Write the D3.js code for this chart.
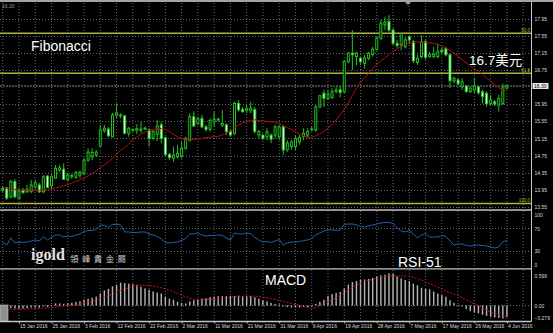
<!DOCTYPE html>
<html>
<head>
<meta charset="utf-8">
<script src="https://cdn.jsdelivr.net/npm/d3@7"></script>
<style>
  html, body { margin: 0; padding: 0; background: #000; }
  svg { display: block; }
</style>
</head>
<body>
<div id="chart"></div>
<script>
// ---- data (daily bars, 11 Jan - 4 Jun 2016) ----
const open = [13.98,13.99,13.78,14.14,13.75,13.94,13.90,13.90,14.01,14.06,
  13.90,14.27,14.04,14.22,14.41,14.43,14.19,14.26,14.24,14.29,
  14.33,14.64,14.72,14.76,14.97,15.33,15.37,15.19,15.70,15.70,
  15.68,15.27,15.34,15.34,15.34,15.37,15.35,15.15,15.25,15.47,
  15.17,14.78,14.69,14.72,14.74,14.92,15.11,15.66,15.50,15.62,
  15.42,15.36,15.54,15.58,15.46,15.47,15.31,15.27,15.97,15.83,
  15.81,15.80,15.83,15.23,15.23,15.19,15.23,15.23,15.19,15.42,
  14.88,14.96,14.96,15.07,15.19,15.23,15.35,15.35,15.89,16.21,
  16.09,16.11,16.25,16.29,16.25,16.95,17.15,17.07,17.03,16.91,
  17.03,17.12,17.24,17.50,17.81,17.89,17.69,17.38,17.34,17.30,
  17.53,17.42,16.93,17.07,17.42,17.07,17.07,17.07,17.22,17.26,
  17.11,16.50,16.52,16.36,16.38,16.25,16.29,16.36,16.25,16.21,
  15.97,16.01,15.93,15.97,16.33];
const close = [13.95,13.75,14.14,13.78,13.92,13.88,13.96,14.06,14.11,13.90,
  14.25,14.00,14.25,14.45,14.46,14.19,14.29,14.28,14.35,14.36,
  14.64,14.83,14.82,14.83,15.35,15.39,15.21,15.70,15.75,15.68,
  15.27,15.39,15.36,15.38,15.37,15.39,15.15,15.31,15.44,15.15,
  14.77,14.70,14.76,14.80,14.92,15.15,15.66,15.44,15.61,15.42,
  15.36,15.57,15.60,15.60,15.50,15.31,15.23,15.97,15.82,15.78,
  15.85,15.86,15.31,15.31,15.15,15.31,15.13,15.42,15.42,14.88,
  15.04,15.07,15.15,15.17,15.27,15.31,15.37,15.89,16.15,16.09,
  16.19,16.25,16.29,16.23,16.95,17.15,17.11,17.15,16.95,17.04,
  17.15,17.24,17.50,17.85,17.88,17.69,17.38,17.33,17.61,17.46,
  17.46,16.97,17.03,17.42,17.05,17.12,17.12,17.18,17.18,17.11,
  16.50,16.56,16.43,16.48,16.25,16.33,16.38,16.22,16.13,15.96,
  16.05,15.96,16.09,16.36,16.38];
const high = [14.04,14.02,14.18,14.20,13.99,13.99,14.06,14.18,14.18,14.11,
  14.29,14.29,14.29,14.53,14.53,14.57,14.34,14.32,14.39,14.39,
  14.69,14.92,14.92,14.88,15.47,15.47,15.42,15.75,15.97,15.74,
  15.70,15.42,15.38,15.49,15.54,15.43,15.39,15.35,15.58,15.54,
  15.19,14.81,14.96,15.00,15.07,15.19,15.74,15.78,15.66,15.70,
  15.47,15.62,15.78,15.64,15.82,15.50,15.35,16.01,16.05,15.89,
  15.93,16.01,15.89,15.35,15.25,15.39,15.27,15.47,15.47,15.47,
  15.11,15.11,15.23,15.23,15.39,15.39,15.42,15.93,16.17,16.29,
  16.29,16.33,16.36,16.36,16.99,17.18,17.69,17.18,17.07,17.11,
  17.18,17.30,17.53,17.93,18.00,18.04,17.73,17.46,17.63,17.53,
  17.57,17.46,17.11,17.57,17.46,17.18,17.30,17.38,17.29,17.30,
  17.15,16.60,16.56,16.56,16.40,16.36,16.56,16.38,16.29,16.25,
  16.17,16.05,16.17,16.44,16.40];
const low = [13.89,13.71,13.75,13.75,13.71,13.85,13.87,13.87,13.97,13.87,
  13.87,13.99,13.97,14.20,14.37,14.18,14.14,14.20,14.20,14.22,
  14.29,14.60,14.64,14.72,14.96,15.28,15.19,15.18,15.62,15.62,
  15.25,15.19,15.31,15.25,15.28,15.35,14.97,15.11,15.09,15.04,
  14.74,14.64,14.60,14.68,14.68,14.88,15.07,15.42,15.47,15.39,
  15.31,15.31,15.42,15.55,15.42,15.23,15.19,15.23,15.78,15.75,
  15.74,15.74,15.27,15.15,15.11,15.11,15.04,15.15,15.11,14.76,
  14.84,14.88,14.88,15.00,15.11,15.15,15.32,15.31,15.86,15.89,
  16.05,16.07,16.21,16.11,16.21,16.91,16.75,16.87,16.87,16.79,
  16.99,17.07,17.21,17.46,17.69,17.65,17.34,17.27,17.22,17.26,
  17.38,16.91,16.87,17.03,16.99,17.04,17.03,17.03,17.15,17.07,
  16.33,16.44,16.40,16.29,16.22,16.21,16.21,16.17,15.97,15.89,
  15.93,15.91,15.78,15.93,16.30];
// red moving average
const ma = [14.00,13.98,13.97,13.95,13.94,13.94,13.94,13.94,13.94,13.94,
  13.95,13.96,13.97,13.99,14.01,14.04,14.07,14.10,14.14,14.18,
  14.22,14.27,14.33,14.39,14.46,14.53,14.60,14.68,14.78,14.87,
  14.94,15.02,15.12,15.19,15.25,15.30,15.34,15.36,15.38,15.38,
  15.36,15.31,15.25,15.19,15.15,15.12,15.11,15.12,15.14,15.15,
  15.17,15.18,15.19,15.20,15.23,15.28,15.32,15.39,15.47,15.52,
  15.55,15.57,15.59,15.57,15.56,15.55,15.54,15.53,15.50,15.45,
  15.40,15.36,15.30,15.25,15.21,15.18,15.18,15.21,15.25,15.31,
  15.39,15.48,15.58,15.70,15.83,15.98,16.16,16.32,16.46,16.58,
  16.68,16.79,16.88,16.97,17.04,17.11,17.19,17.25,17.30,17.35,
  17.38,17.40,17.41,17.41,17.40,17.39,17.38,17.35,17.32,17.27,
  17.21,17.15,17.08,17.00,16.92,16.85,16.79,16.73,16.65,16.57,
  16.49,16.41,16.34,16.29,16.27];
const rsi = [45.2,40.7,53.2,44.3,46.0,45.2,46.0,47.8,49.6,47.8,
  55.8,49.6,54.0,58.5,58.5,54.9,56.7,55.8,58.5,60.3,
  64.7,66.5,66.5,68.3,76.3,75.4,71.8,77.2,77.2,76.3,
  63.8,63.8,62.9,62.9,63.8,63.8,60.3,58.5,55.8,51.4,
  45.2,44.3,45.2,46.0,48.7,52.3,60.3,60.3,62.0,58.5,
  56.7,57.6,57.6,58.5,57.6,53.2,49.6,62.0,60.3,60.3,
  61.2,61.2,54.0,49.6,46.0,46.9,45.2,47.8,50.5,40.7,
  44.3,46.0,46.0,46.9,48.7,49.6,52.3,58.5,62.0,65.6,
  67.4,67.4,66.5,67.4,77.2,78.0,78.0,76.3,73.6,72.7,
  74.5,76.3,78.0,79.8,80.7,80.7,78.9,70.9,65.6,63.8,
  66.5,60.3,53.2,58.5,61.2,54.9,54.9,54.9,57.6,55.8,
  47.8,40.7,42.5,42.5,39.8,38.9,39.8,40.7,39.8,38.9,
  37.2,35.4,37.2,46.9,48.5];
const macdHist = [-0.06,-0.07,-0.05,-0.06,-0.06,-0.06,-0.05,-0.04,-0.04,-0.04,
  -0.02,-0.03,-0.01,0.04,0.04,0.03,0.04,0.05,0.07,0.08,
  0.11,0.13,0.15,0.17,0.23,0.29,0.32,0.37,0.40,0.44,
  0.43,0.42,0.41,0.40,0.36,0.33,0.30,0.27,0.25,0.23,
  0.17,0.13,0.11,0.07,0.05,0.04,0.08,0.10,0.12,0.13,
  0.14,0.16,0.17,0.18,0.18,0.18,0.18,0.18,0.19,0.18,
  0.18,0.18,0.16,0.13,0.10,0.08,0.05,0.03,0.02,-0.02,
  -0.03,-0.04,-0.04,-0.04,-0.03,-0.03,-0.02,0.03,0.07,0.11,
  0.18,0.22,0.24,0.26,0.33,0.40,0.45,0.47,0.49,0.50,
  0.51,0.53,0.56,0.58,0.59,0.62,0.61,0.56,0.52,0.49,
  0.47,0.42,0.39,0.34,0.32,0.31,0.27,0.23,0.20,0.17,
  0.10,0.05,0.01,-0.02,-0.07,-0.11,-0.13,-0.15,-0.18,-0.20,
  -0.22,-0.23,-0.24,-0.25,-0.22];
const macdSignal = [-0.07,-0.07,-0.07,-0.07,-0.07,-0.07,-0.07,-0.065,-0.06,-0.06,
  -0.055,-0.05,-0.04,-0.03,-0.02,-0.01,0.00,0.01,0.02,0.03,
  0.05,0.06,0.08,0.10,0.13,0.16,0.19,0.22,0.26,0.29,
  0.32,0.34,0.37,0.38,0.39,0.39,0.385,0.37,0.36,0.34,
  0.32,0.29,0.265,0.23,0.20,0.17,0.14,0.12,0.11,0.11,
  0.11,0.12,0.12,0.13,0.14,0.15,0.16,0.17,0.17,0.18,
  0.18,0.18,0.18,0.17,0.16,0.145,0.13,0.12,0.10,0.08,
  0.06,0.04,0.02,0.00,-0.02,-0.04,-0.05,-0.04,-0.01,0.03,
  0.07,0.11,0.15,0.20,0.25,0.30,0.35,0.39,0.43,0.46,
  0.48,0.50,0.52,0.54,0.55,0.56,0.57,0.57,0.57,0.57,
  0.56,0.54,0.52,0.49,0.45,0.42,0.39,0.35,0.32,0.28,
  0.25,0.22,0.19,0.15,0.11,0.07,0.03,-0.01,-0.05,-0.09,
  -0.13,-0.16,-0.18,-0.20,-0.215];

const dateLabels = ["15 Jan 2016","25 Jan 2016","3 Feb 2016","12 Feb 2016","22 Feb 2016",
  "2 Mar 2016","11 Mar 2016","21 Mar 2016","31 Mar 2016","9 Apr 2016","19 Apr 2016",
  "28 Apr 2016","7 May 2016","17 May 2016","26 May 2016","4 Jun 2016"];
const dateIdx = d3.range(4, 125, 8);
const priceTicks = [17.95,17.55,17.15,16.75,16.35,15.95,15.55,15.15,14.75,14.35,13.95,13.55];
const fibLevels = [{ name: "50.0", price: 17.615 }, { name: "61.8", price: 16.677 }, { name: "100.0", price: 13.625 }];
const rsiTicks = [100, 70, 30, 0];
const macdTicks = [0.599, 0, -0.279];
const bidLabel = "16.30";

// ---- layout ----
const W = 553, H = 333, plotR = 531;
const svg = d3.select("#chart").append("svg")
  .attr("width", W).attr("height", H)
  .style("background", "#000");

const x = d3.scaleLinear().domain([0, 124]).range([2.7, 506.9]);
const yP = d3.scaleLinear().domain([13.55, 17.95]).range([206.7, 19]);
const yR = d3.scaleLinear().domain([0, 100]).range([267.9, 211.6]);
const yM = d3.scaleLinear().domain([-0.279, 0.599]).range([320, 274.35]);

const gridCol = "#7c8794";
const green = "#22c022";
const fibCol = "#b2b23a";
const labelFont = "Liberation Sans, Arial, sans-serif";

// vertical dotted grid in each pane
const gridIdx = d3.range(0, 129, 4);
function vgrid(y0, y1) {
  svg.append("g").selectAll("line").data(gridIdx).join("line")
    .attr("x1", d => x(d)).attr("x2", d => x(d))
    .attr("y1", y0).attr("y2", y1)
    .attr("stroke", gridCol).attr("stroke-width", 0.8)
    .attr("stroke-dasharray", "1,2");
}
function hgrid(vals, scale) {
  svg.append("g").selectAll("line").data(vals).join("line")
    .attr("x1", 0).attr("x2", plotR)
    .attr("y1", d => Math.round(scale(d)) + 0.5).attr("y2", d => Math.round(scale(d)) + 0.5)
    .attr("stroke", gridCol).attr("stroke-width", 0.8)
    .attr("stroke-dasharray", "1,2");
}
vgrid(3, 208);
vgrid(211, 268);
vgrid(270, 321);

const lastClose = close[close.length - 1];
hgrid(priceTicks.filter(d => Math.abs(d - lastClose) > 0.1), yP);
hgrid([70, 30], yR);
hgrid([0], yM);

// bid line
svg.append("line")
  .attr("x1", 0).attr("x2", plotR)
  .attr("y1", yP(lastClose)).attr("y2", yP(lastClose))
  .attr("stroke", "#a8b0b8").attr("stroke-width", 0.8)
  .attr("stroke-dasharray", "2,1");

// fibonacci levels
const fib = svg.append("g");
fib.selectAll("line").data(fibLevels).join("line")
  .attr("x1", 0).attr("x2", plotR)
  .attr("y1", d => yP(d.price)).attr("y2", d => yP(d.price))
  .attr("stroke", fibCol).attr("stroke-width", 1.4);
fib.selectAll("text").data(fibLevels).join("text")
  .attr("x", plotR - 1).attr("y", d => yP(d.price) - 1.2)
  .attr("text-anchor", "end")
  .style("font", `4.5px ${labelFont}`)
  .attr("fill", fibCol)
  .text(d => d.name);

// candles
const bars = d3.range(open.length).map(i => ({ i, o: open[i], h: high[i], l: low[i], c: close[i] }));
const cg = svg.append("g");
cg.selectAll("line").data(bars).join("line")
  .attr("x1", d => x(d.i)).attr("x2", d => x(d.i))
  .attr("y1", d => yP(d.h)).attr("y2", d => yP(d.l))
  .attr("stroke", green).attr("stroke-width", 1);
cg.selectAll("rect").data(bars).join("rect")
  .attr("x", d => x(d.i) - 1)
  .attr("width", 2)
  .attr("y", d => yP(Math.max(d.o, d.c)))
  .attr("height", d => Math.max(0.6, Math.abs(yP(d.o) - yP(d.c))))
  .attr("fill", d => d.c >= d.o ? "#000" : "#fff")
  .attr("stroke", green).attr("stroke-width", 1);

// moving average
svg.append("path")
  .datum(ma)
  .attr("fill", "none")
  .attr("stroke", "#b01010")
  .attr("stroke-width", 1)
  .attr("d", d3.line().x((d, i) => x(i)).y(d => yP(d)));

// RSI
svg.append("path")
  .datum(rsi)
  .attr("fill", "none")
  .attr("stroke", "#2160ac")
  .attr("stroke-width", 1)
  .attr("d", d3.line().x((d, i) => x(i)).y(d => yR(d)));

// MACD histogram + signal
svg.append("g").selectAll("rect").data(macdHist).join("rect")
  .attr("x", (d, i) => x(i) - 0.7)
  .attr("width", 1.4)
  .attr("y", d => Math.min(yM(d), yM(0)))
  .attr("height", d => Math.abs(yM(d) - yM(0)))
  .attr("fill", "#b4b4b4");
svg.append("path")
  .datum(macdSignal)
  .attr("fill", "none")
  .attr("stroke", "#e01010")
  .attr("stroke-width", 1)
  .attr("stroke-dasharray", "2,1.5")
  .attr("d", d3.line().x((d, i) => x(i)).y(d => yM(d)));

// pane frames
svg.append("rect").attr("x", 0).attr("y", 0).attr("width", W).attr("height", 2).attr("fill", "#a3a3a3");
[210, 268.8, 321.5].forEach(yy => {
  svg.append("line").attr("x1", 0).attr("x2", plotR + 0.5).attr("y1", yy).attr("y2", yy)
    .attr("stroke", "#c4c4c4").attr("stroke-width", 1.3);
});
svg.append("line").attr("x1", plotR + 0.5).attr("x2", plotR + 0.5).attr("y1", 2).attr("y2", 321.5)
  .attr("stroke", "#c4c4c4").attr("stroke-width", 1);
svg.append("path").attr("d", "M405,2 L411,2 L408,5 Z").attr("fill", "#9a9a9a");
svg.append("rect").attr("x", 0).attr("y", 305).attr("width", 8).attr("height", 16)
  .attr("fill", "#8e8e8e").attr("stroke", "#c8c8c8").attr("stroke-width", 0.6);
svg.append("text").attr("x", 2).attr("y", 7.5).style("font", `5px ${labelFont}`)
  .attr("fill", "#9a9a9a").text(bidLabel);

// right axes
function styleAxis(g) {
  g.select(".domain").remove();
  g.selectAll("text").style("font", `5px ${labelFont}`).attr("fill", "#dcdcdc");
}
svg.append("g").attr("transform", `translate(${plotR},0)`)
  .call(d3.axisRight(yP).tickValues(priceTicks.filter(d => Math.abs(d - lastClose) > 0.1))
    .tickSize(0).tickPadding(3.5).tickFormat(d3.format(".2f")))
  .call(styleAxis);
svg.append("g").attr("transform", `translate(${plotR},0)`)
  .call(d3.axisRight(yR).tickValues(rsiTicks).tickSize(0).tickPadding(3.5))
  .call(styleAxis)
  .selectAll("text").attr("dy", d => d === 100 ? "0.95em" : d === 0 ? "-0.3em" : "0.32em");
svg.append("g").attr("transform", `translate(${plotR},0)`)
  .call(d3.axisRight(yM).tickValues(macdTicks).tickSize(0).tickPadding(3.5)
    .tickFormat(d => d === 0 ? "0.00" : d3.format(".3f")(d)))
  .call(styleAxis)
  .selectAll("text").attr("dy", d => d > 0 ? "0.6em" : d < 0 ? "-0.2em" : "0.32em");

// bid box
const bidY = yP(lastClose);
svg.append("rect").attr("x", plotR + 1.5).attr("y", bidY - 3).attr("width", 16).attr("height", 6)
  .attr("fill", "#e8e8e8");
svg.append("text").attr("x", plotR + 3).attr("y", bidY + 1.8)
  .style("font", `5px ${labelFont}`).attr("fill", "#000").text(bidLabel);

// date axis
const xa = svg.append("g").attr("transform", "translate(0,321.5)")
  .call(d3.axisBottom(x).tickValues(dateIdx).tickSize(2).tickPadding(0.8)
    .tickFormat((d, i) => dateLabels[i]));
xa.select(".domain").remove();
xa.selectAll("line").attr("stroke", "#c4c4c4");
xa.selectAll("text").attr("text-anchor", "start").attr("dx", 0.5)
  .style("font", `5px ${labelFont}`).attr("fill", "#dcdcdc");

// annotations
const ann = [
  { t: "Fibonacci", x: 31, y: 51, s: 14 },
  { t: "16.7美元", x: 469, y: 64.5, s: 13.5 },
  { t: "RSI-51", x: 398, y: 266.5, s: 14 },
  { t: "MACD", x: 265, y: 284.5, s: 14 }
];
svg.append("g").selectAll("text").data(ann).join("text")
  .attr("x", d => d.x).attr("y", d => d.y)
  .style("font-family", "Liberation Sans, Arial, 'Noto Sans CJK SC', sans-serif")
  .style("font-size", d => d.s + "px")
  .attr("fill", "#fff")
  .text(d => d.t);

// logo
svg.append("text").attr("x", 31).attr("y", 259.5)
  .style("font-family", "Liberation Serif, serif").style("font-weight", "bold").style("font-size", "16px")
  .attr("fill", "#e4e4e4").text("igold");
svg.append("text").attr("x", 70).attr("y", 262)
  .style("font-family", "'Noto Sans CJK TC', sans-serif").style("font-size", "8.5px")
  .style("letter-spacing", "3.4px")
  .attr("fill", "#cfcfcf").text("領峰貴金屬");
</script>
</body>
</html>
